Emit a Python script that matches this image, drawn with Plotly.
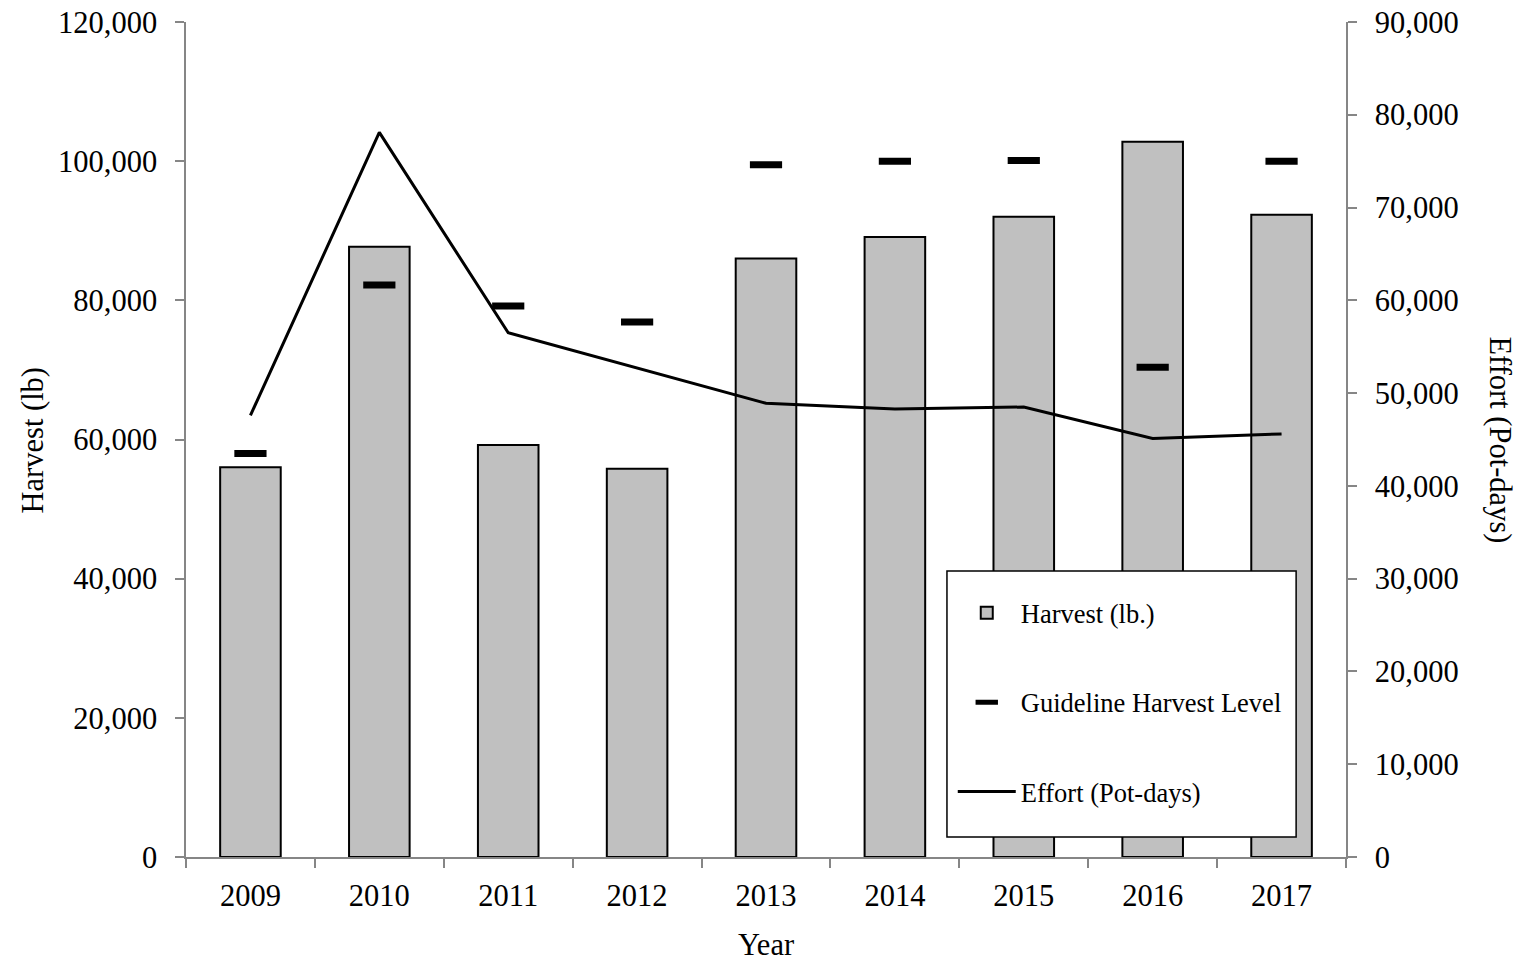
import plotly.graph_objects as go

years = ["2009", "2010", "2011", "2012", "2013", "2014", "2015", "2016", "2017"]
harvest = [56000, 87700, 59200, 55800, 86000, 89100, 92000, 102800, 92300]
ghl = [58000, 82200, 79200, 76900, 99500, 100000, 100100, 70400, 100000]
effort = [47600, 78100, 56500, 52700, 48900, 48300, 48500, 45100, 45600]

FONT = "Liberation Serif"
AXIS_GRAY = "#868686"
TICK_SIZE = 30.5

fig = go.Figure()
fig.add_trace(go.Bar(
    x=years, y=harvest, name="Harvest (lb.)",
    marker=dict(color="#C0C0C0", line=dict(color="black", width=2)),
    width=0.47, legendgroup="a",
))
fig.add_trace(go.Scatter(
    x=years, y=ghl, name="Guideline Harvest Level", mode="markers",
    marker=dict(symbol="line-ew", size=23, color="black",
                line=dict(color="black", width=7)),
    legendgroup="b",
))
fig.add_trace(go.Scatter(
    x=years, y=effort, name="Effort (Pot-days)", mode="lines",
    line=dict(color="black", width=3), yaxis="y2",
    legendgroup="c",
))

fig.update_layout(
    width=1533, height=962,
    margin=dict(l=186, r=187, t=22, b=105),
    paper_bgcolor="white", plot_bgcolor="white",
    font=dict(family=FONT, size=TICK_SIZE, color="black"),
    showlegend=True,
    legend=dict(
        x=0.661, y=0.321, xanchor="left", yanchor="top",
        bgcolor="rgba(0,0,0,0)", borderwidth=0,
        font=dict(family=FONT, size=26.5, color="black"),
        traceorder="grouped", tracegroupgap=52, itemwidth=58,
    ),
    shapes=[dict(
        type="rect", xref="paper", yref="paper", layer="above",
        x0=0.656, x1=0.957, y0=0.024, y1=0.3425,
        line=dict(color="black", width=1.5), fillcolor="white",
    )],
    xaxis=dict(
        type="category", range=[-0.5, len(years) - 0.5],
        showline=True, linecolor=AXIS_GRAY, linewidth=1.5,
        ticks="outside", tickson="boundaries", ticklen=9, tickcolor=AXIS_GRAY,
        tickwidth=1.5, showgrid=False, automargin=False,
        ticklabelstandoff=11, ticklabeloverflow="allow",
        title=dict(text="Year", font=dict(family=FONT, size=TICK_SIZE), standoff=29),
        tickfont=dict(family=FONT, size=TICK_SIZE),
    ),
    yaxis=dict(
        range=[0, 120000], dtick=20000, tickformat=",d",
        showline=True, linecolor=AXIS_GRAY, linewidth=1.5,
        ticks="outside", ticklen=9, tickcolor=AXIS_GRAY, tickwidth=1.5,
        showgrid=False, zeroline=False, automargin=False,
        ticklabelstandoff=12, ticklabeloverflow="allow",
        tickfont=dict(family=FONT, size=TICK_SIZE),
    ),
    yaxis2=dict(
        range=[0, 90000], dtick=10000, tickformat=",d",
        overlaying="y", side="right",
        showline=True, linecolor=AXIS_GRAY, linewidth=1.5,
        ticks="outside", ticklen=9, tickcolor=AXIS_GRAY, tickwidth=1.5,
        showgrid=False, zeroline=False, automargin=False,
        ticklabelstandoff=12, ticklabeloverflow="allow",
        tickfont=dict(family=FONT, size=TICK_SIZE),
    ),
    annotations=[
        dict(
            text="Harvest (lb)", textangle=-90, showarrow=False,
            xref="paper", yref="paper", x=-0.1319, y=0.5,
            xanchor="center", yanchor="middle",
            font=dict(family=FONT, size=TICK_SIZE, color="black"),
        ),
        dict(
            text="Effort (Pot-days)", textangle=90, showarrow=False,
            xref="paper", yref="paper", x=1.1328, y=0.5,
            xanchor="center", yanchor="middle",
            font=dict(family=FONT, size=TICK_SIZE, color="black"),
        ),
    ],
)

fig.write_html(
    "out.html",
    config={"displayModeBar": False},
    post_script="document.body.style.margin='0';document.body.style.overflow='hidden';",
)
